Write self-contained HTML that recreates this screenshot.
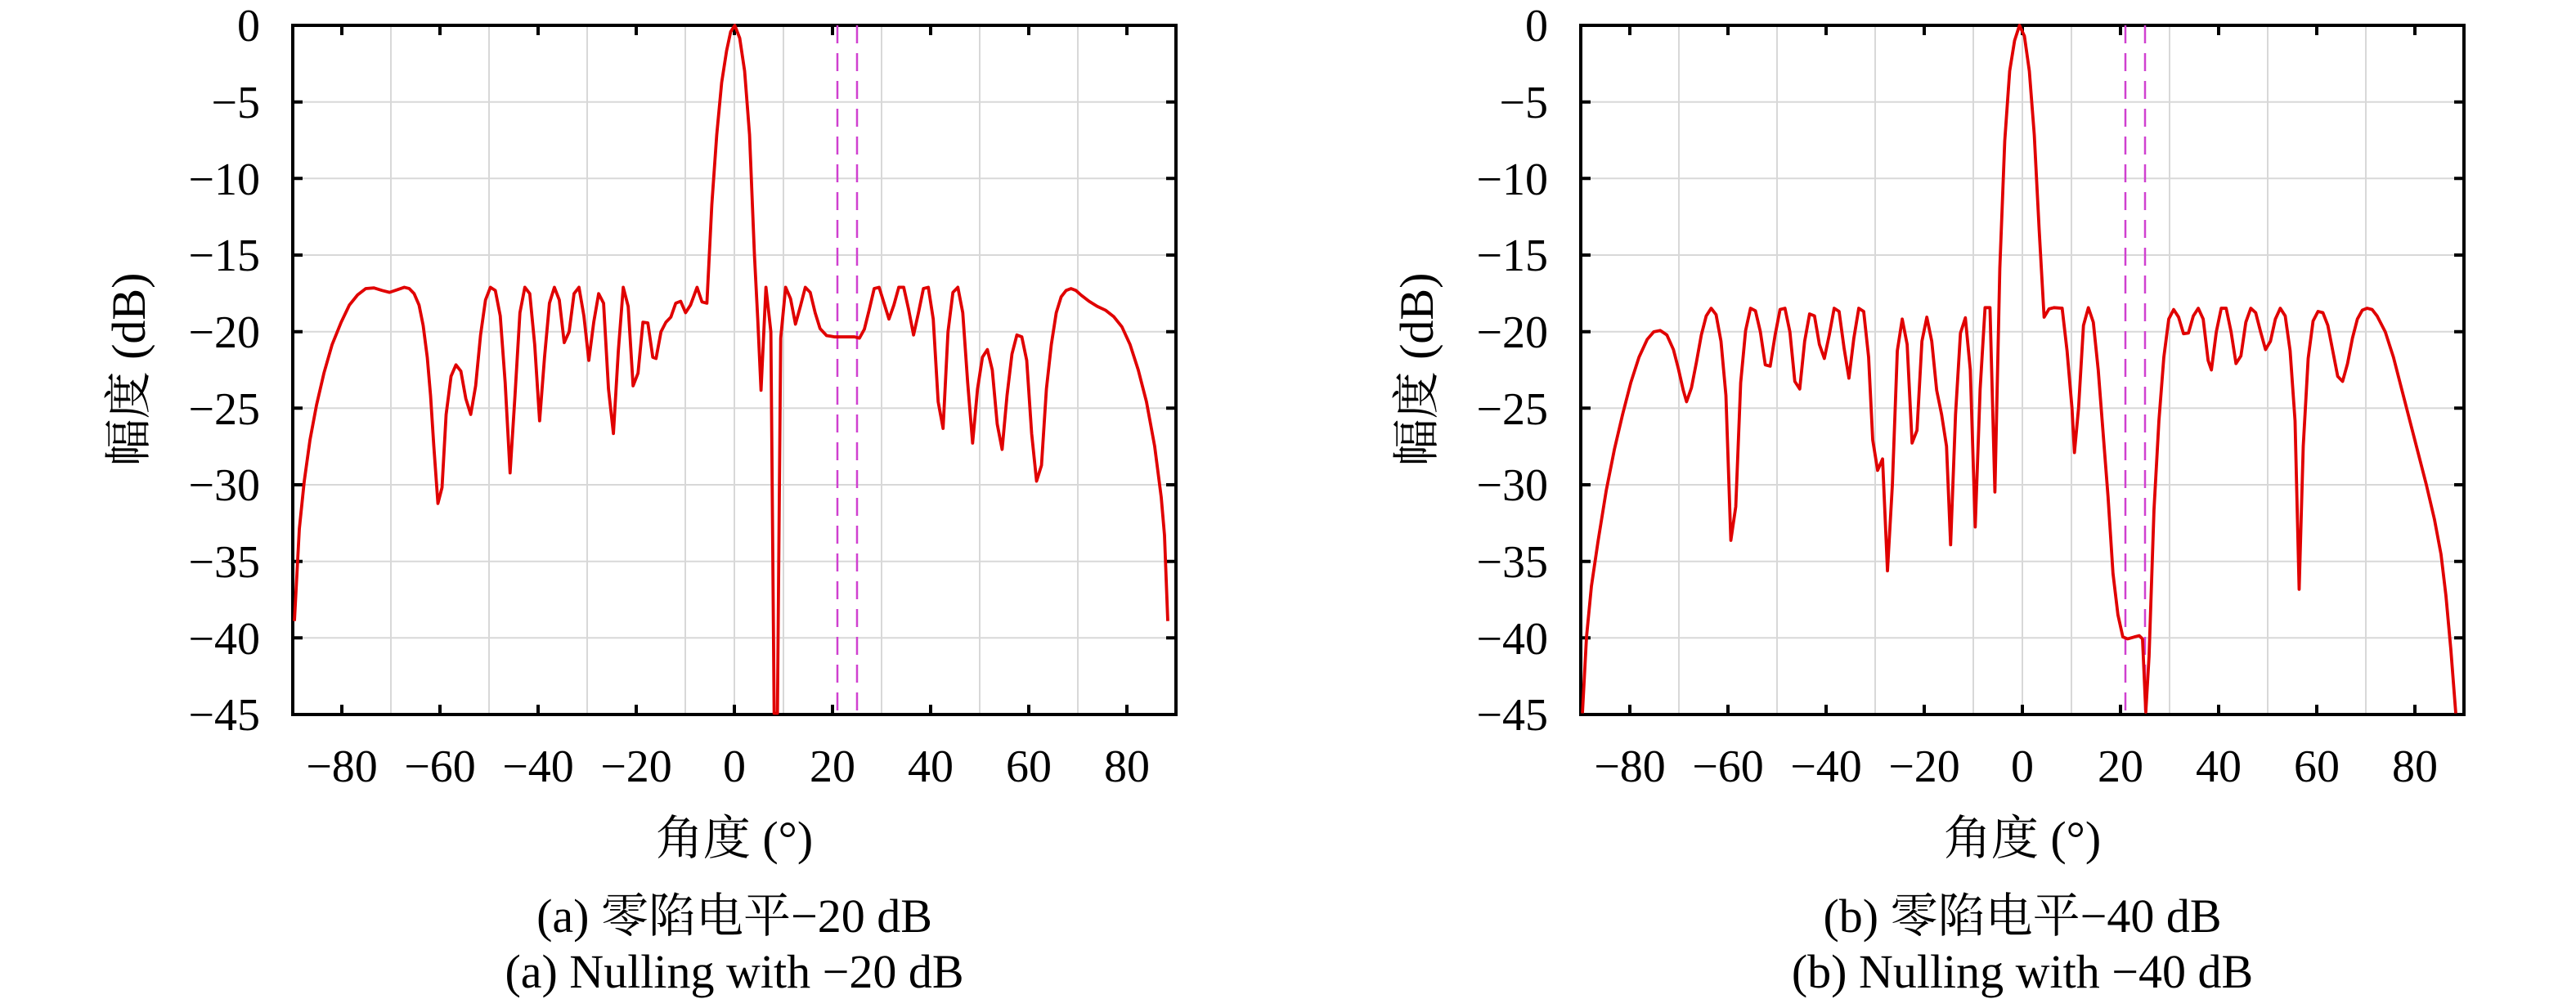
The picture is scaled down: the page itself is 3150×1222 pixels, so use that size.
<!DOCTYPE html>
<html><head><meta charset="utf-8"><style>
html,body{margin:0;padding:0;background:#fff}
svg{display:block}
text{font-family:"Liberation Serif","Noto Serif CJK SC",serif;fill:#000}
</style></head><body>
<svg width="3150" height="1222" viewBox="0 0 3150 1222" xmlns="http://www.w3.org/2000/svg">
<defs>
<g id="axes">
  <g stroke="#d8d8d8" stroke-width="2">
    <line x1="478" y1="31" x2="478" y2="874"/><line x1="598" y1="31" x2="598" y2="874"/>
    <line x1="718" y1="31" x2="718" y2="874"/><line x1="838" y1="31" x2="838" y2="874"/>
    <line x1="958" y1="31" x2="958" y2="874"/><line x1="1078" y1="31" x2="1078" y2="874"/>
    <line x1="1198" y1="31" x2="1198" y2="874"/><line x1="1318" y1="31" x2="1318" y2="874"/>
    <line x1="898" y1="31" x2="898" y2="874"/>
    <line x1="358" y1="124.7" x2="1438" y2="124.7"/><line x1="358" y1="218.3" x2="1438" y2="218.3"/>
    <line x1="358" y1="312" x2="1438" y2="312"/><line x1="358" y1="405.7" x2="1438" y2="405.7"/>
    <line x1="358" y1="499.3" x2="1438" y2="499.3"/><line x1="358" y1="593" x2="1438" y2="593"/>
    <line x1="358" y1="686.7" x2="1438" y2="686.7"/><line x1="358" y1="780.3" x2="1438" y2="780.3"/>
  </g>
  <g stroke="#000" stroke-width="4">
    <path d="M418 874v-12M538 874v-12M658 874v-12M778 874v-12M898 874v-12M1018 874v-12M1138 874v-12M1258 874v-12M1378 874v-12"/>
    <path d="M418 31v12M538 31v12M658 31v12M778 31v12M898 31v12M1018 31v12M1138 31v12M1258 31v12M1378 31v12"/>
    <path d="M358 124.7h12M358 218.3h12M358 312h12M358 405.7h12M358 499.3h12M358 593h12M358 686.7h12M358 780.3h12"/>
    <path d="M1438 124.7h-12M1438 218.3h-12M1438 312h-12M1438 405.7h-12M1438 499.3h-12M1438 593h-12M1438 686.7h-12M1438 780.3h-12"/>
    <rect x="358" y="31" width="1080" height="843" fill="none"/>
  </g>
  <g font-size="56" text-anchor="end">
    <text x="318" y="50">0</text><text x="318" y="144">−5</text><text x="318" y="238">−10</text>
    <text x="318" y="331">−15</text><text x="318" y="425">−20</text><text x="318" y="519">−25</text>
    <text x="318" y="612">−30</text><text x="318" y="706">−35</text><text x="318" y="800">−40</text>
    <text x="318" y="893">−45</text>
  </g>
  <g font-size="56" text-anchor="middle">
    <text x="418" y="956">−80</text><text x="538" y="956">−60</text><text x="658" y="956">−40</text>
    <text x="778" y="956">−20</text><text x="898" y="956">0</text><text x="1018" y="956">20</text>
    <text x="1138" y="956">40</text><text x="1258" y="956">60</text><text x="1378" y="956">80</text>
  </g>
  <text x="898" y="1045" font-size="58" text-anchor="middle">角度 (°)</text>
  <text transform="translate(177,452) rotate(-90)" font-size="58" text-anchor="middle">幅度 (dB)</text>
  <g stroke="#d040d0" stroke-width="2.5" stroke-dasharray="22 12">
    <line x1="1024" y1="31" x2="1024" y2="874"/><line x1="1048" y1="31" x2="1048" y2="874"/>
  </g>
</g>
</defs>

<use href="#axes"/>
<g transform="matrix(1.00279 0 0 0.7777 -1.99 1.45)">
<polyline fill="none" stroke="#e00000" stroke-width="3.8" vector-effect="non-scaling-stroke" stroke-linejoin="round" points="361,975 367,830 373,755 380,690 388,635 397,585 407,540 418,505 428,478 438,462 448,452 458,451 468,455 477,458 486,454 495,450 501,452 507,460 513,478 518,510 523,560 527,620 531,700 536,790 541,765 546,650 552,590 558,572 564,582 570,625 576,650 582,605 588,525 594,470 600,450 606,455 612,495 618,600 624,742 630,620 636,490 642,450 648,460 654,540 660,660 666,560 672,475 678,450 684,470 690,537 696,520 702,460 708,450 714,495 720,565 726,505 732,460 738,475 744,610 750,680 756,550 762,450 768,480 774,605 780,585 786,505 792,506 798,560 802,562 808,520 814,505 820,497 826,475 832,472 838,490 844,478 852,450 858,473 864,475 870,320 876,210 882,128 888,78 893,48 898,38 904,58 910,110 916,210 922,400 926,500 930,612 936,450 942,520 946,1120 950,1120 954,530 960,450 966,468 972,508 978,480 984,450 990,458 996,490 1002,515 1010,526 1020,528 1030,528 1044,528 1050,530 1056,516 1062,485 1068,452 1074,450 1080,475 1086,500 1092,478 1098,450 1104,450 1110,485 1116,525 1122,490 1128,452 1134,450 1140,500 1146,630 1152,672 1158,520 1164,458 1170,450 1176,490 1182,600 1188,695 1194,610 1200,560 1206,548 1212,580 1218,665 1224,705 1230,620 1236,555 1242,525 1248,528 1254,565 1260,680 1266,755 1272,730 1278,610 1284,540 1290,490 1296,465 1302,455 1308,452 1314,455 1320,462 1330,472 1340,480 1350,486 1360,496 1370,512 1380,540 1390,580 1400,630 1410,700 1418,780 1422,840 1426,975"/>
</g>
<text x="898" y="1140" font-size="58" text-anchor="middle">(a) 零陷电平−20 dB</text>
<text x="898" y="1208" font-size="58" text-anchor="middle">(a) Nulling with −20 dB</text>

<g transform="translate(1575,0)">
<use href="#axes"/>
<g transform="matrix(1.00279 0 0 0.7777 -1.99 1.45)">
<polyline fill="none" stroke="#e00000" stroke-width="3.8" vector-effect="non-scaling-stroke" stroke-linejoin="round" points="361,1120 366,1000 372,920 380,850 390,770 400,705 410,650 420,600 430,560 440,532 448,520 456,518 464,525 472,548 478,578 484,612 488,630 494,608 500,568 506,525 512,495 518,483 524,493 530,535 536,620 542,848 548,795 554,600 560,518 566,483 572,487 578,520 584,572 590,574 596,525 602,485 608,483 614,520 620,598 626,610 632,535 638,492 644,495 650,540 656,562 662,525 668,483 674,488 680,545 686,593 692,530 698,483 704,488 710,560 715,690 721,738 727,720 733,896 739,760 745,550 751,500 757,540 763,695 769,675 775,535 781,497 787,535 793,612 799,650 805,700 810,855 816,650 822,522 828,498 834,580 840,827 846,610 852,482 858,482 864,772 870,420 876,220 882,110 888,62 894,38 900,55 906,110 912,210 918,360 924,497 930,484 936,482 946,483 952,550 958,640 961,710 966,640 972,510 978,482 984,505 990,580 996,680 1002,780 1008,900 1014,965 1020,1000 1026,1003 1034,1000 1040,998 1044,1003 1048,1118 1052,1030 1058,800 1064,660 1070,560 1076,500 1082,485 1088,497 1094,523 1100,522 1106,495 1112,483 1118,500 1124,565 1128,580 1134,520 1140,483 1146,483 1152,520 1158,570 1164,558 1170,505 1176,483 1182,490 1188,520 1194,548 1200,535 1206,500 1212,483 1218,495 1224,550 1230,660 1235,925 1240,700 1246,562 1252,503 1258,488 1264,490 1270,510 1276,550 1282,590 1288,598 1294,570 1300,530 1306,500 1312,486 1318,483 1324,485 1330,495 1340,520 1350,560 1360,610 1370,660 1380,710 1390,760 1400,815 1408,870 1414,935 1420,1020 1426,1120"/>
</g>
<text x="898" y="1140" font-size="58" text-anchor="middle">(b) 零陷电平−40 dB</text>
<text x="898" y="1208" font-size="58" text-anchor="middle">(b) Nulling with −40 dB</text>
</g>
</svg>
</body></html>
